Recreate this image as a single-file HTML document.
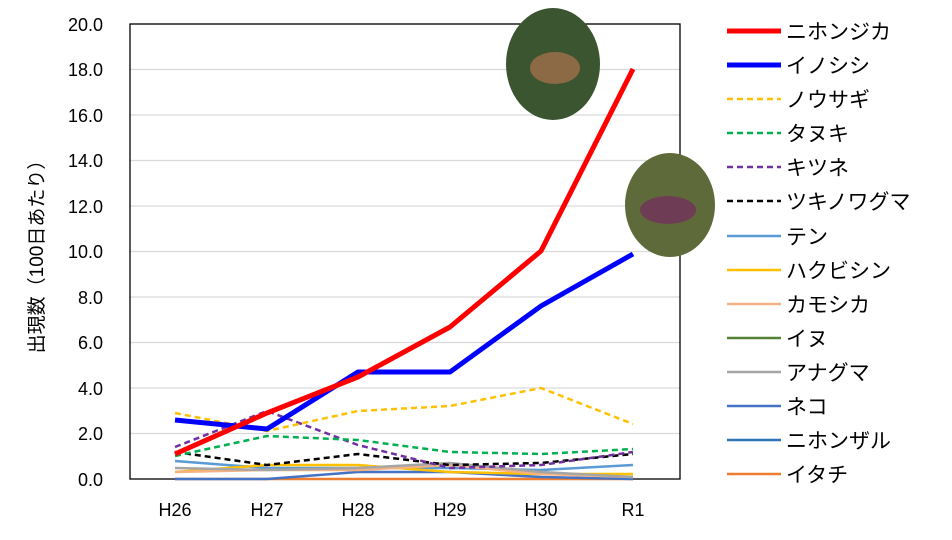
<!DOCTYPE html>
<html><head><meta charset="utf-8"><style>
body{margin:0;background:#fff}
svg text{font-family:"Liberation Sans","Noto Sans CJK JP",sans-serif;fill:#000}
</style></head><body>
<svg width="952" height="535" viewBox="0 0 952 535" xmlns="http://www.w3.org/2000/svg">
<rect width="952" height="535" fill="#fff"/>
<g stroke="#d9d9d9" stroke-width="1.3">
<line x1="130" x2="680" y1="24" y2="24"/><line x1="130" x2="680" y1="69.5" y2="69.5"/>
<line x1="130" x2="680" y1="115" y2="115"/><line x1="130" x2="680" y1="160.5" y2="160.5"/>
<line x1="130" x2="680" y1="206" y2="206"/><line x1="130" x2="680" y1="251.5" y2="251.5"/>
<line x1="130" x2="680" y1="297" y2="297"/><line x1="130" x2="680" y1="342.5" y2="342.5"/>
<line x1="130" x2="680" y1="388" y2="388"/><line x1="130" x2="680" y1="433.5" y2="433.5"/>
</g>
<rect x="130" y="24" width="550" height="455" fill="none" stroke="#000" stroke-width="1.3"/>
<g font-size="18" text-anchor="end">
<text x="103" y="31">20.0</text><text x="103" y="76">18.0</text><text x="103" y="122">16.0</text>
<text x="103" y="167">14.0</text><text x="103" y="213">12.0</text><text x="103" y="258">10.0</text>
<text x="103" y="304">8.0</text><text x="103" y="349">6.0</text><text x="103" y="395">4.0</text>
<text x="103" y="440">2.0</text><text x="103" y="486">0.0</text>
</g>
<g font-size="18" text-anchor="middle">
<text x="175" y="516">H26</text><text x="267" y="516">H27</text><text x="358" y="516">H28</text>
<text x="450" y="516">H29</text><text x="541" y="516">H30</text><text x="633" y="516">R1</text>
</g>
<text transform="translate(43,252) rotate(-90)" font-size="19" text-anchor="middle">出現数（100日あたり）</text>
<g fill="none" stroke-linejoin="round">
<polyline stroke="#ed7d31" stroke-width="2.5" points="175,479 267,479 358,479 450,479 541,479 633,479"/>
<polyline stroke="#4472c4" stroke-width="2.5" points="175,479 267,479 358,472 450,472 541,477 633,479"/>
<polyline stroke="#5b9bd5" stroke-width="2.5" points="175,461 267,468 358,468 450,468 541,470 633,465"/>
<polyline stroke="#ffc000" stroke-width="2.5" points="175,472 267,465 358,465 450,472 541,474 633,474"/>
<polyline stroke="#f4b183" stroke-width="2.5" points="175,472 267,470 358,470 450,465 541,474 633,477"/>
<polyline stroke="#a5a5a5" stroke-width="2.5" points="175,468 267,470 358,468 450,463 541,472 633,477"/>
<polyline stroke="#000" stroke-width="2.5" stroke-dasharray="6,4" points="175,452 267,465 358,454 450,465 541,463 633,454"/>
<polyline stroke="#7030a0" stroke-width="2.5" stroke-dasharray="6,4" points="175,447 267,411 358,445 450,468 541,465 633,452"/>
<polyline stroke="#00b050" stroke-width="2.5" stroke-dasharray="6,4" points="175,456 267,436 358,440 450,452 541,454 633,449"/>
<polyline stroke="#ffc000" stroke-width="2.5" stroke-dasharray="6,4" points="175,413 267,431 358,411 450,406 541,388 633,424"/>
<polyline stroke="#0000ff" stroke-width="5" points="175,420 267,429 358,372 450,372 541,306 633,254"/>
<polyline stroke="#ff0000" stroke-width="5" points="175,454 267,413 358,377 450,327 541,251 633,69"/>
</g>
<ellipse cx="553" cy="64" rx="47" ry="56" fill="#3a5530"/>
<ellipse cx="555" cy="68" rx="25" ry="16" fill="#8b6a45"/>
<ellipse cx="670" cy="205" rx="45" ry="52" fill="#5f6a3a"/>
<ellipse cx="668" cy="210" rx="28" ry="14" fill="#6e3d55"/>
<g stroke-width="5" fill="none">
<line x1="727" x2="781" y1="31" y2="31" stroke="#ff0000"/>
<line x1="727" x2="781" y1="65" y2="65" stroke="#0000ff"/>
</g>
<g stroke-width="2.5" fill="none" stroke-dasharray="6,4">
<line x1="727" x2="781" y1="99" y2="99" stroke="#ffc000"/>
<line x1="727" x2="781" y1="133" y2="133" stroke="#00b050"/>
<line x1="727" x2="781" y1="167" y2="167" stroke="#7030a0"/>
<line x1="727" x2="781" y1="201" y2="201" stroke="#000"/>
</g>
<g stroke-width="2.5" fill="none">
<line x1="727" x2="781" y1="236" y2="236" stroke="#5b9bd5"/>
<line x1="727" x2="781" y1="270" y2="270" stroke="#ffc000"/>
<line x1="727" x2="781" y1="304" y2="304" stroke="#f4b183"/>
<line x1="727" x2="781" y1="338" y2="338" stroke="#548235"/>
<line x1="727" x2="781" y1="372" y2="372" stroke="#a5a5a5"/>
<line x1="727" x2="781" y1="406" y2="406" stroke="#4472c4"/>
<line x1="727" x2="781" y1="440" y2="440" stroke="#2e75b6"/>
<line x1="727" x2="781" y1="474" y2="474" stroke="#ed7d31"/>
</g>
<g font-size="21">
<text x="786" y="39">ニホンジカ</text><text x="786" y="73">イノシシ</text>
<text x="786" y="107">ノウサギ</text><text x="786" y="141">タヌキ</text>
<text x="786" y="175">キツネ</text><text x="786" y="209">ツキノワグマ</text>
<text x="786" y="244">テン</text><text x="786" y="278">ハクビシン</text>
<text x="786" y="312">カモシカ</text><text x="786" y="346">イヌ</text>
<text x="786" y="380">アナグマ</text><text x="786" y="414">ネコ</text>
<text x="786" y="448">ニホンザル</text><text x="786" y="482">イタチ</text>
</g>
</svg>
</body></html>
